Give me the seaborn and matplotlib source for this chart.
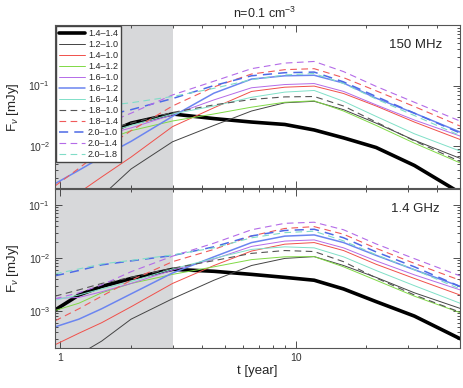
import matplotlib
matplotlib.use("Agg")
import matplotlib.pyplot as plt
import seaborn as sns
from matplotlib.ticker import FixedLocator, FixedFormatter, LogLocator, NullFormatter

# ─── Data (flux in mJy vs time in years) ────────────────────────────────────
T = [0.95, 1.2, 1.5, 2, 3, 4.5, 6.5, 9, 12, 16, 22, 32, 50]

LABELS = ["1.4\u20131.4", "1.2\u20131.0", "1.4\u20131.0", "1.4\u20131.2",
          "1.6\u20131.0", "1.6\u20131.2", "1.6\u20131.4", "1.8\u20131.0",
          "1.8\u20131.4", "2.0\u20131.0", "2.0\u20131.4", "2.0\u20131.8"]

# 150 MHz
a_14_14 = [0.006, 0.0105, 0.015, 0.024, 0.034, 0.0285, 0.025, 0.0228, 0.0185, 0.0137, 0.0095, 0.0048, 0.0017]
a_12_10 = [0.0003, 0.0006, 0.0015, 0.0042, 0.0118, 0.022, 0.038, 0.052, 0.055, 0.04, 0.024, 0.0125, 0.0063]
a_14_10 = [0.0009, 0.0017, 0.0031, 0.0066, 0.021, 0.043, 0.08, 0.094, 0.098, 0.074, 0.046, 0.025, 0.0129]
a_14_12 = [0.0058, 0.0085, 0.012, 0.018, 0.026, 0.034, 0.044, 0.053, 0.056, 0.038, 0.022, 0.0112, 0.0053]
a_16_10 = [0.013, 0.0135, 0.015, 0.02, 0.033, 0.058, 0.092, 0.104, 0.108, 0.08, 0.048, 0.027, 0.0147]
a_16_12 = [0.0024, 0.004, 0.0066, 0.012, 0.031, 0.075, 0.128, 0.145, 0.148, 0.11, 0.062, 0.035, 0.0171]
a_16_14 = [0.011, 0.013, 0.016, 0.022, 0.034, 0.046, 0.064, 0.078, 0.083, 0.055, 0.031, 0.016, 0.0083]
a_18_10 = [0.011, 0.014, 0.018, 0.024, 0.036, 0.048, 0.059, 0.065, 0.066, 0.046, 0.025, 0.0122, 0.0056]
a_18_14 = [0.0022, 0.0043, 0.0085, 0.018, 0.046, 0.095, 0.155, 0.183, 0.19, 0.135, 0.082, 0.045, 0.0215]
a_20_10 = [0.024, 0.027, 0.031, 0.04, 0.061, 0.1, 0.145, 0.163, 0.167, 0.115, 0.066, 0.035, 0.0165]
a_20_14 = [0.012, 0.016, 0.022, 0.035, 0.07, 0.118, 0.19, 0.235, 0.25, 0.17, 0.097, 0.053, 0.026]
a_20_18 = [0.04, 0.043, 0.046, 0.052, 0.066, 0.09, 0.125, 0.15, 0.158, 0.108, 0.06, 0.032, 0.015]

# 1.4 GHz
b_14_14 = [0.00104, 0.002, 0.0029, 0.0041, 0.0061, 0.0056, 0.0049, 0.0043, 0.0038, 0.0026, 0.0015, 0.0008, 0.0003]
b_12_10 = [0.00008, 0.00015, 0.00027, 0.0007, 0.0017, 0.0038, 0.0072, 0.0098, 0.0106, 0.0072, 0.0043, 0.0022, 0.00112]
b_14_10 = [0.00023, 0.00038, 0.0006, 0.0012, 0.0033, 0.0072, 0.0135, 0.0182, 0.0195, 0.0138, 0.0076, 0.0041, 0.002]
b_14_12 = [0.00102, 0.0014, 0.0022, 0.0033, 0.0049, 0.0068, 0.0093, 0.0105, 0.0106, 0.0068, 0.0038, 0.0019, 0.00093]
b_16_10 = [0.00172, 0.0018, 0.0023, 0.0033, 0.0059, 0.0095, 0.0165, 0.0208, 0.0219, 0.0155, 0.0088, 0.0048, 0.0025]
b_16_12 = [0.0005, 0.0007, 0.0011, 0.0021, 0.0052, 0.0105, 0.0195, 0.0258, 0.0272, 0.0195, 0.0112, 0.006, 0.0029]
b_16_14 = [0.0016, 0.002, 0.0026, 0.0036, 0.0062, 0.0098, 0.0145, 0.0162, 0.0155, 0.0105, 0.0058, 0.003, 0.0014]
b_18_10 = [0.0019, 0.0025, 0.0033, 0.0043, 0.0064, 0.0089, 0.0122, 0.0138, 0.0132, 0.0085, 0.0042, 0.002, 0.00095]
b_18_14 = [0.00065, 0.0011, 0.0019, 0.0038, 0.0085, 0.0145, 0.026, 0.036, 0.039, 0.028, 0.0152, 0.0079, 0.0038]
b_20_10 = [0.0046, 0.0058, 0.0074, 0.0088, 0.0111, 0.0162, 0.026, 0.033, 0.0348, 0.024, 0.013, 0.0068, 0.0029]
b_20_14 = [0.0017, 0.0022, 0.0031, 0.0055, 0.0108, 0.019, 0.034, 0.045, 0.0472, 0.034, 0.0184, 0.0097, 0.0046]
b_20_18 = [0.005, 0.0062, 0.0077, 0.009, 0.0114, 0.0155, 0.024, 0.03, 0.032, 0.021, 0.0115, 0.006, 0.0026]

SERIES_150 = [a_14_14, a_12_10, a_14_10, a_14_12, a_16_10, a_16_12,
              a_16_14, a_18_10, a_18_14, a_20_10, a_20_14, a_20_18]
SERIES_1400 = [b_14_14, b_12_10, b_14_10, b_14_12, b_16_10, b_16_12,
               b_16_14, b_18_10, b_18_14, b_20_10, b_20_14, b_20_18]

# ─── Style ──────────────────────────────────────────────────────────────────
DASH = (0, (6, 4))
STYLES = [
    ("#000000", "-", 2.6),
    ("#444444", "-", 0.7),
    ("#f0504a", "-", 0.7),
    ("#80d945", "-", 0.7),
    ("#b46be8", "-", 0.7),
    ("#6b85f0", "-", 1.1),
    ("#80e0c8", "-", 0.7),
    ("#555555", DASH, 0.8),
    ("#f05a5a", DASH, 0.8),
    ("#4d6ae6", DASH, 1.1),
    ("#b46be8", DASH, 0.8),
    ("#80dcc8", DASH, 0.8),
]

sns.set_style("ticks")
plt.rcParams["font.family"] = ["Liberation Sans", "DejaVu Sans"]
plt.rcParams["mathtext.fontset"] = "custom"
plt.rcParams["mathtext.rm"] = "Liberation Sans"
plt.rcParams["mathtext.it"] = "Liberation Sans:italic"

fig = plt.figure(figsize=(4.63, 3.88), dpi=100)
ax_top = fig.add_axes([0.1188, 0.5142, 0.8747, 0.4214])
ax_bot = fig.add_axes([0.1188, 0.1031, 0.8747, 0.4098])

panels = [
    (ax_top, SERIES_150, (2e-3, 1.0), [1e-2, 1e-1], ["10$^{-2}$", "10$^{-1}$"], "150 MHz"),
    (ax_bot, SERIES_1400, (2e-4, 0.2), [1e-3, 1e-2, 1e-1],
     ["10$^{-3}$", "10$^{-2}$", "10$^{-1}$"], "1.4 GHz"),
]

for ax, series, ylim, yt, ytl, tag in panels:
    ax.set_xscale("log")
    ax.set_yscale("log")
    ax.axvspan(0.9, 3.0, color="#d7d8da", lw=0, zorder=0)
    for lab, vals, (c, ls, lw) in zip(LABELS, series, STYLES):
        sns.lineplot(x=T, y=vals, ax=ax, color=c, linestyle=ls, linewidth=lw,
                     label=lab, legend=False)
    ax.set_xlim(0.95, 50)
    ax.set_ylim(*ylim)
    ax.yaxis.set_major_locator(FixedLocator(yt))
    ax.yaxis.set_major_formatter(FixedFormatter(ytl))
    ax.yaxis.set_minor_locator(LogLocator(base=10, subs=range(2, 10), numticks=20))
    ax.yaxis.set_minor_formatter(NullFormatter())
    ax.xaxis.set_major_locator(FixedLocator([1, 10]))
    ax.xaxis.set_minor_locator(FixedLocator([2, 3, 4, 5, 6, 7, 8, 9, 20, 30, 40, 50]))
    ax.xaxis.set_minor_formatter(NullFormatter())
    ax.tick_params(which="both", direction="in", top=True, right=True,
                   labelsize=7.5, colors="#333333", width=0.6)
    ax.tick_params(which="major", length=5)
    ax.tick_params(which="minor", length=2.5)
    for sp in ax.spines.values():
        sp.set_color("#555555")
        sp.set_linewidth(0.8)
    ax.set_xlabel("")
    ax.set_ylabel("F$_{\\nu}$ [mJy]", fontsize=9.5)
    ax.yaxis.set_label_coords(-0.085, 0.5)
    ax.text(0.89, 0.875, tag, transform=ax.transAxes, ha="center", va="center",
            fontsize=9.5)

ax_top.xaxis.set_major_formatter(NullFormatter())
ax_bot.xaxis.set_major_formatter(FixedFormatter(["1", "10"]))
ax_bot.set_xlabel("t [year]", fontsize=9.5)
ax_bot.xaxis.set_label_coords(0.5, -0.11)

for ax in (ax_top, ax_bot):
    leg = ax.get_legend()
    if leg is not None:
        leg.remove()

ax_top.legend(ax_top.get_lines()[:12], LABELS, loc="upper left", fontsize=6.5,
              labelspacing=0.22, handlelength=2.9, handletextpad=0.3,
              borderpad=0.3, borderaxespad=0.15, frameon=True, fancybox=False,
              edgecolor="#444444", framealpha=1.0)

fig.text(0.572, 0.966, "n=0.1 cm$^{-3}$", ha="center", va="center", fontsize=9)

fig.savefig("out.png", dpi=100)
plt.close(fig)
